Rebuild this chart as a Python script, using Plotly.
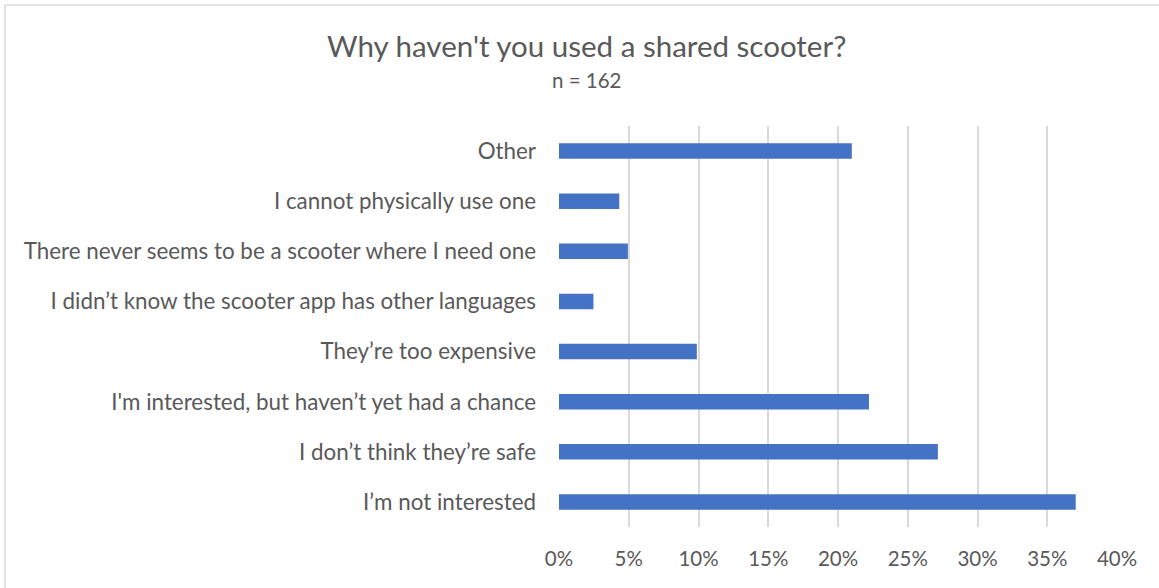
import plotly.graph_objects as go

# Survey responses (share of 162 respondents), listed bottom to top
reasons = [
    "I’m not interested",
    "I don’t think they’re safe",
    "I'm interested, but haven’t yet had a chance",
    "They’re too expensive",
    "I didn’t know the scooter app has other languages",
    "There never seems to be a scooter where I need one",
    "I cannot physically use one",
    "Other",
]
shares = [0.3704, 0.2716, 0.2222, 0.0988, 0.0247, 0.0494, 0.0432, 0.2099]

tick_vals = [0, 0.05, 0.10, 0.15, 0.20, 0.25, 0.30, 0.35, 0.40]
tick_text = ["0%", "5%", "10%", "15%", "20%", "25%", "30%", "35%", "40%"]

W, H = 1159, 588
ML, MR, MT, MB = 559, 42, 126, 61
TEXT = "#595959"
FONT = "Lato"

fig = go.Figure(
    go.Bar(
        x=shares,
        y=reasons,
        orientation="h",
        width=0.31,
        marker=dict(color="#4472C4", line=dict(width=0)),
        hoverinfo="skip",
    )
)

pw = W - ML - MR
ph = H - MT - MB


def px_to_paper_x(px):
    return (px - ML) / pw


def px_to_paper_y(py):
    return (H - MB - py) / ph


# thin frame along the top and left edges of the chart area
frame = dict(color="#D9D9D9", width=1.5)
fig.add_shape(type="line", xref="paper", yref="paper",
              x0=px_to_paper_x(5), x1=px_to_paper_x(W + 2),
              y0=px_to_paper_y(5), y1=px_to_paper_y(5), line=frame)
fig.add_shape(type="line", xref="paper", yref="paper",
              x0=px_to_paper_x(5), x1=px_to_paper_x(5),
              y0=px_to_paper_y(5), y1=px_to_paper_y(H + 2), line=frame)

fig.add_annotation(text="Why haven't you used a shared scooter?",
                   xref="paper", yref="paper",
                   x=px_to_paper_x(586), y=px_to_paper_y(45),
                   xanchor="center", yanchor="middle", showarrow=False,
                   font=dict(family=FONT, size=29.5, color=TEXT))
fig.add_annotation(text="n = 162",
                   xref="paper", yref="paper",
                   x=px_to_paper_x(587), y=px_to_paper_y(80),
                   xanchor="center", yanchor="middle", showarrow=False,
                   font=dict(family=FONT, size=20.5, color=TEXT))

fig.update_layout(
    width=W,
    height=H,
    margin=dict(l=ML, r=MR, t=MT, b=MB),
    paper_bgcolor="white",
    plot_bgcolor="white",
    showlegend=False,
    xaxis=dict(
        range=[0, 0.40],
        tickvals=tick_vals,
        ticktext=tick_text,
        showgrid=True,
        gridcolor="#D9D9D9",
        gridwidth=1.6,
        zeroline=False,
        showline=False,
        ticks="",
        ticklabelstandoff=17,
        tickfont=dict(family=FONT, size=20.5, color=TEXT),
        fixedrange=True,
    ),
    yaxis=dict(
        categoryorder="array",
        categoryarray=reasons,
        showgrid=False,
        zeroline=False,
        showline=False,
        ticks="",
        ticklabelstandoff=22,
        tickfont=dict(family=FONT, size=22.4, color=TEXT),
        fixedrange=True,
    ),
)

fig.write_html("out.html", config={"displayModeBar": False})
